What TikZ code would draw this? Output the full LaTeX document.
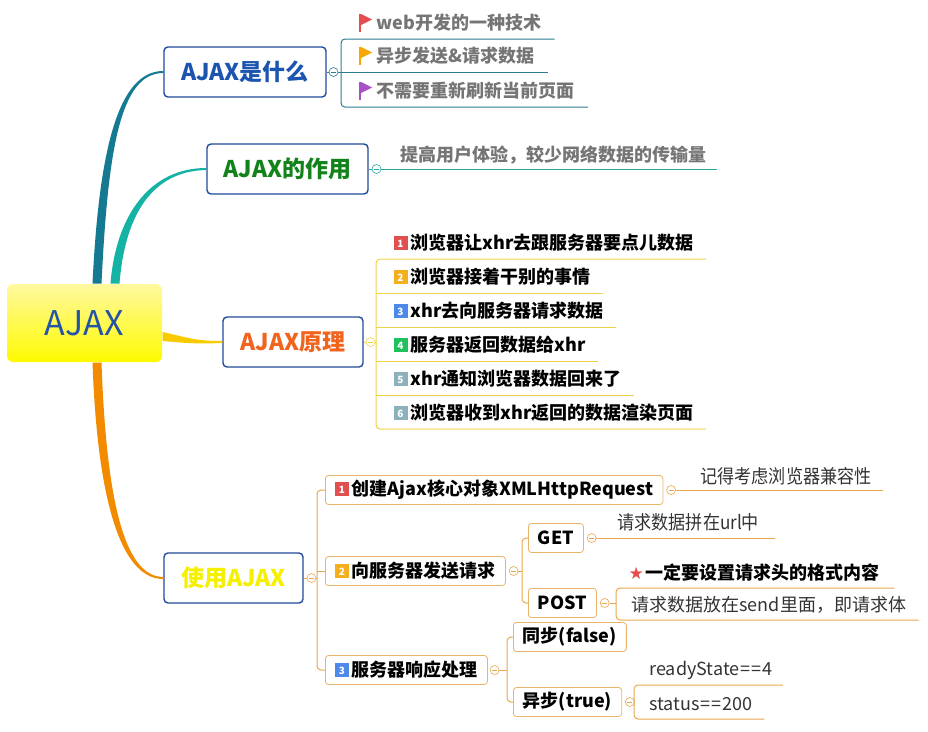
\documentclass[tikz,border=0pt]{standalone}
\usepackage{fontspec}
\setmainfont{Noto Sans CJK SC}
\newfontfamily\narrowfont{Noto Sans CJK SC}[FakeStretch=0.9]
\newfontfamily\symfont{DejaVu Sans}
\usetikzlibrary{positioning}

\definecolor{rootblue}{HTML}{2553A6}
\definecolor{rootlight}{HTML}{FFF9A0}
\definecolor{rootyellow}{HTML}{FFFA00}
\definecolor{boxblue}{HTML}{1F4A9C}
\definecolor{whatblue}{HTML}{1C55B0}
\definecolor{rolegreen}{HTML}{12831A}
\definecolor{howorange}{HTML}{F0641E}
\definecolor{useyellow}{HTML}{F5EF00}
\definecolor{curveA}{HTML}{157A91}
\definecolor{curveB}{HTML}{14B3A3}
\definecolor{curveC}{HTML}{F7CB00}
\definecolor{curveD}{HTML}{F38B00}
\definecolor{teal1}{HTML}{2A7E90}
\definecolor{teal2}{HTML}{26A89D}
\definecolor{yel}{HTML}{EFD24A}
\definecolor{org}{HTML}{E8A74E}
\definecolor{orgbox}{HTML}{E9B46A}
\definecolor{itemgray}{HTML}{757575}
\definecolor{notegray}{HTML}{333333}
\definecolor{flagred}{HTML}{E84C4C}
\definecolor{flagorange}{HTML}{F7A700}
\definecolor{flagpurple}{HTML}{A94FC8}
\definecolor{badgered}{HTML}{E05050}
\definecolor{badgeorg}{HTML}{F5AE1C}
\definecolor{badgeblue}{HTML}{4D88EA}
\definecolor{badgegreen}{HTML}{1FC25A}
\definecolor{badgegray}{HTML}{8DB1BB}
\definecolor{starred}{HTML}{E84C4C}

\newcommand\fsz[1]{\fontsize{#1}{#1}\selectfont}
\newcommand\numtag[2]{\raisebox{-0.5pt}{\textcolor{#1}{\rule{14pt}{14pt}}}\kern-14pt%
  \hbox to 14pt{\hss\raisebox{2pt}{\textcolor{white}{\fsz{10}\bfseries #2}}\hss}}

\tikzset{
  rootbox/.style={rounded corners=6pt, minimum width=155pt, minimum height=78pt,
    top color=rootlight, bottom color=rootyellow, text=rootblue, font=\fsz{34}},
  branch/.style={draw=boxblue, line width=1.4pt, rounded corners=4pt, fill=white,
    minimum height=50pt, font=\bfseries\fsz{23}},
  fold/.style={circle, draw=#1, fill=white, inner sep=0pt, minimum size=9pt, line width=0.6pt,
    path picture={\draw[#1, line width=0.5pt] ([xshift=2pt]path picture bounding box.west)
      -- ([xshift=-2pt]path picture bounding box.east);}},
  item/.style={anchor=west, inner sep=0pt, font=\bfseries\fsz{18}},
  grayitem/.style={item, text=itemgray},
  subbox/.style={anchor=west, draw=orgbox, fill=white, rounded corners=3pt, line width=0.8pt,
    minimum height=29pt, inner xsep=9.5pt, font=\bfseries\fsz{18}},
  note/.style={anchor=west, inner sep=0pt, font=\fsz{18}, text=notegray},
  narrownote/.style={note, font=\narrowfont\fsz{19}},
  pennant/.pic={\fill[#1] (0,-9) rectangle (2.2,9);
    \fill[#1] (2.2,-9) -- (13,-3.5) -- (2.2,2) -- cycle;},
}

\begin{document}
\begin{tikzpicture}[x=1pt, y=-1pt, line width=1pt]
  \useasboundingbox (0,0) rectangle (928,731);

  % centre and the four main topics
  \node[rootbox] (root) at (84.5,323) {AJAX};
  \node[branch, text=whatblue, minimum width=162pt] (what) at (245,72) {AJAX是什么};
  \node[branch, text=rolegreen, minimum width=161pt] (role) at (287.5,169) {AJAX的作用};
  \node[branch, text=howorange, minimum width=140pt] (how) at (293,342) {AJAX原理};
  \node[branch, text=useyellow, minimum width=139pt] (usage) at (233.5,578) {使用AJAX};

  % tapered branches
  \fill[curveA] ([xshift=8pt]root.north) .. controls (99,150) and (118,71) .. ([yshift=1pt]what.west)
    -- ([yshift=-1pt]what.west) .. controls (120,73) and (108,150) .. ([xshift=17pt]root.north) -- cycle;
  \fill[curveB] ([xshift=26pt]root.north) .. controls (116,215) and (150,168) .. ([yshift=1pt]role.west)
    -- ([yshift=-1pt]role.west) .. controls (152,171) and (125,215) .. ([xshift=35pt]root.north) -- cycle;
  \fill[curveC] ([yshift=-9pt]root.east) .. controls (190,338) and (195,341) .. ([yshift=1pt]how.west)
    -- ([yshift=-1pt]how.west) .. controls (195,344) and (185,343) .. ([yshift=-18pt]root.east) -- cycle;
  \fill[curveD] ([xshift=8pt]root.south) .. controls (97,490) and (118,579) .. ([yshift=-1pt]usage.west)
    -- ([yshift=1pt]usage.west) .. controls (122,577) and (106,490) .. ([xshift=17pt]root.south) -- cycle;

  % AJAX是什么
  \node[fold=teal1] (f1) [right=2pt of what] {};
  \draw[teal1] (what) -- (f1);
  \node[grayitem] (w1t) at (376,23) {web开发的一种技术};
  \node[grayitem] (w2t) at (376,56) {异步发送\&请求数据};
  \node[grayitem] (w3t) at (376,91) {不需要重新刷新当前页面};
  \pic at ([xshift=-17pt]w1t.west) {pennant=flagred};
  \pic at ([xshift=-17pt]w2t.west) {pennant=flagorange};
  \pic at ([xshift=-17pt]w3t.west) {pennant=flagpurple};
  \coordinate (w0) at (341,72);
  \coordinate (w1) at ([xshift=13pt,yshift=-16pt]w1t.east);
  \coordinate (w2) at ([xshift=13pt,yshift=-16pt]w2t.east);
  \coordinate (w3) at ([xshift=13pt,yshift=-16pt]w3t.east);
  \draw[teal1, rounded corners=4pt] (w1) -| (w0) |- (w3);
  \draw[teal1] (f1) -- (f1 -| w2);

  % AJAX的作用
  \node[fold=teal2] (f2) [right=3pt of role] {};
  \draw[teal2] (role) -- (f2);
  \node[grayitem] (r1t) at (400,155) {提高用户体验，较少网络数据的传输量};
  \coordinate (r1) at ([xshift=10pt]r1t.east);
  \draw[teal2] (f2) -- (f2 -| r1);

  % AJAX原理
  \node[fold=yel] (f3) [right=2pt of how] {};
  \draw[yel] (how) -- (f3);
  \coordinate (h0) at (376,342);
  \foreach \k/\c/\t in {1/badgered/浏览器让xhr去跟服务器要点儿数据, 2/badgeorg/浏览器接着干别的事情,
      3/badgeblue/xhr去向服务器请求数据, 4/badgegreen/服务器返回数据给xhr,
      5/badgegray/xhr通知浏览器数据回来了, 6/badgegray/浏览器收到xhr返回的数据渲染页面} {
    \node[item] (t\k) at (393,209+34*\k) {\numtag{\c}{\k}\hspace{3pt}\t};
    \coordinate (h\k) at ([xshift=12pt,yshift=-16pt]t\k.east);
  }
  \draw[yel, rounded corners=4pt] (h1) -| (h0) |- (h6);
  \foreach \k in {2,...,5}
    \draw[yel] (h\k -| h0) -- (h\k);
  \draw[yel] (f3) -- (h0);

  % 使用AJAX
  \node[fold=org] (f4) [right=3pt of usage] {};
  \draw[org] (usage) -- (f4);
  \coordinate (u0) at (317,578);
  \node[subbox] (u1) at (325,490) {\numtag{badgered}{1}\hspace{3pt}创建Ajax核心对象XMLHttpRequest};
  \node[subbox] (u2) at (325,571) {\numtag{badgeorg}{2}\hspace{3pt}向服务器发送请求};
  \node[subbox] (u3) at (325,670) {\numtag{badgeblue}{3}\hspace{3pt}服务器响应处理};
  \draw[org, rounded corners=4pt] (u1.west) -| (u0) |- (u3.west);
  \draw[org] (f4) -- (u0);
  \draw[org] (u2.west -| u0) -- (u2.west);

  % 1: XMLHttpRequest
  \node[fold=org] (f41) [right=3pt of u1] {};
  \node[narrownote] (n41) at (700,476) {记得考虑浏览器兼容性};
  \coordinate (e41) at ([xshift=11pt]n41.east);
  \draw[org] (f41) -- (f41 -| e41);

  % 2: GET / POST
  \node[fold=org] (f42) [right=3pt of u2] {};
  \coordinate (u20) at (522,571);
  \node[subbox] (get) at (528,538) {GET};
  \node[subbox] (post) at (528,603) {POST};
  \draw[org, rounded corners=4pt] (get.west) -| (u20) |- (post.west);
  \draw[org] (f42) -- (u20);
  \node[fold=org] (f43) [right=3pt of get] {};
  \node[narrownote] (n43) at (617,522) {请求数据拼在url中};
  \coordinate (e43) at ([xshift=15pt]n43.east);
  \draw[org] (f43) -- (f43 -| e43);
  \node[fold=org] (f44) [right=3pt of post] {};
  \coordinate (p0) at (616,603);
  \node[item] (n44) at (628,573) {{\symfont\fsz{17}\textcolor{starred}{★}}\hspace{2pt}一定要设置请求头的格式内容};
  \node[note] (n45) at (631,605) {请求数据放在send里面，即请求体};
  \coordinate (p1) at ([xshift=14pt,yshift=-15pt]n44.east);
  \coordinate (p2) at ([xshift=12pt,yshift=-15pt]n45.east);
  \draw[org, rounded corners=4pt] (p1) -| (p0) |- (p2);
  \draw[org] (f44) -- (p0);

  % 3: 同步 / 异步
  \node[fold=org] (f45) [right=2pt of u3] {};
  \coordinate (u30) at (507,670);
  \node[subbox] (sync) at (513,637) {同步(false)};
  \node[subbox] (async) at (513,702) {异步(true)};
  \draw[org, rounded corners=4pt] (sync.west) -| (u30) |- (async.west);
  \draw[org] (f45) -- (u30);
  \node[fold=org] (f46) [right=3pt of async] {};
  \coordinate (a0) at (634,702);
  \node[note] (n46) at (649,670) {readyState{\kern1pt=\kern1pt=\kern1pt}4};
  \node[note] (n47) at (649,704) {status{\kern1pt=\kern1pt=\kern1pt}200};
  \coordinate (a1) at ([xshift=10pt,yshift=-15pt]n46.east);
  \coordinate (a2) at ([xshift=11pt,yshift=-15pt]n47.east);
  \draw[org, rounded corners=4pt] (a1) -| (a0) |- (a2);
  \draw[org] (f46) -- (a0);
\end{tikzpicture}
\end{document}
